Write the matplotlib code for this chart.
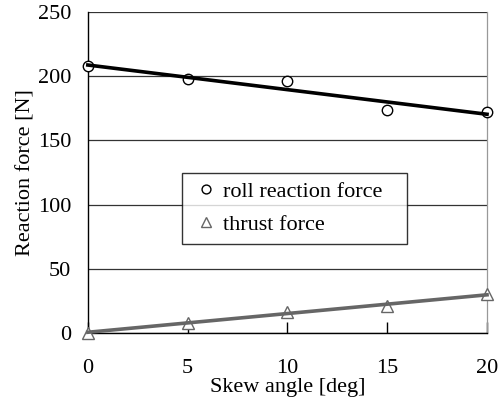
import numpy as np
import matplotlib.pyplot as plt

plt.rcParams['font.family'] = ['Liberation Serif', 'DejaVu Serif']

skew = [0, 5, 10, 15, 20]
roll_force = [208, 198, 196, 174, 172]
thrust_force = [0, 8, 16.5, 21, 30]

fig = plt.figure(figsize=(4.99, 4.05), dpi=100)
ax = fig.add_axes([0.176, 0.178, 0.800, 0.792])

# markers
ax.plot(skew, roll_force, 'o', ms=7.5, mfc='white', mec='black', mew=1.0,
        label='roll reaction force', zorder=3, clip_on=False)
ax.plot(skew, thrust_force, '^', ms=8, mfc='white', mec='#666666', mew=1.0,
        label='thrust force', zorder=3, clip_on=False)

# linear trend lines
xs = np.array([0, 20])
p1 = np.polyfit(skew, roll_force, 1)
p2 = np.polyfit(skew, thrust_force, 1)
ax.plot(xs, np.polyval(p1, xs), color='black', lw=2.6, zorder=4, clip_on=False)
ax.plot(xs, np.polyval(p2, xs), color='#666666', lw=2.6, zorder=4, clip_on=False)

ax.set_xlim(0, 20)
ax.set_ylim(0, 250)
ax.set_xticks([0, 5, 10, 15, 20])
ax.set_yticks([0, 50, 100, 150, 200, 250])
ax.yaxis.grid(True, color='#333333', lw=0.9)
ax.set_axisbelow(True)

ax.spines['top'].set_visible(False)
ax.spines['right'].set_color('#999999')
ax.spines['right'].set_linewidth(0.9)
for s in ['left', 'bottom']:
    ax.spines[s].set_color('black')
    ax.spines[s].set_linewidth(1.0)

ax.tick_params(axis='x', direction='in', length=8, width=1, pad=19, labelsize=16)
ax.tick_params(axis='y', length=0, pad=12, labelsize=16)

ax.set_xlabel('Skew angle [deg]', fontsize=16, labelpad=0)
ax.set_ylabel('Reaction force [N]', fontsize=16, labelpad=2)

leg = ax.legend(loc='upper left', bbox_to_anchor=(0.236, 0.287, 0.564, 0.213),
                mode='expand', fontsize=16,
                frameon=True, fancybox=False, edgecolor='black',
                handlelength=1.4, handletextpad=0.05, borderpad=0.4,
                labelspacing=0.55, borderaxespad=0, markerscale=0.85)
leg.get_frame().set_linewidth(1.0)

fig.savefig('out.png', dpi=100)
